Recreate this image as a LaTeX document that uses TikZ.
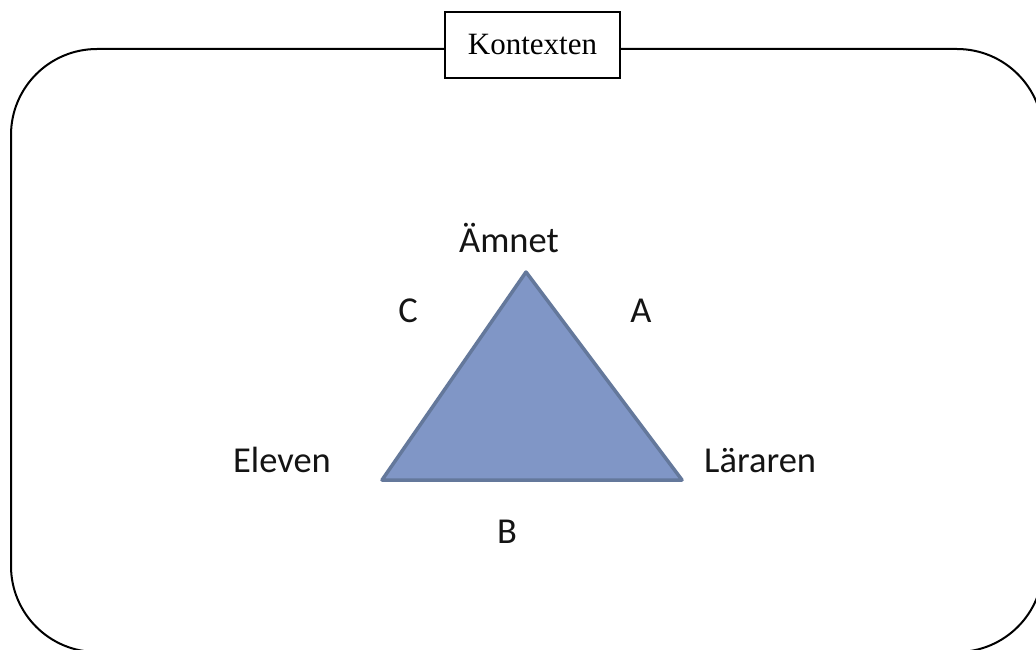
\documentclass[tikz,border=0pt]{standalone}
\usepackage{fontspec}
\setmainfont{Liberation Serif}
\newfontfamily\calib{Carlito}
\definecolor{trifill}{RGB}{128,150,198}
\definecolor{triline}{RGB}{100,120,155}
\definecolor{labtext}{RGB}{20,20,20}
\begin{document}
\begin{tikzpicture}[x=1pt,y=-1pt,
  frame/.style={draw=black,line width=2pt,rounded corners=86pt},
  titlebox/.style={draw=black,line width=2pt,fill=white,minimum width=175pt,minimum height=66pt,inner sep=0pt,font=\fontsize{31}{36}\selectfont},
  corner/.style={fill=trifill,draw=triline,line width=3.5pt,line join=round},
  lab/.style={anchor=base,inner sep=0pt,text=labtext,font=\calib\fontsize{36.5}{42}\selectfont}]
\useasboundingbox (0,0) rectangle (1036,650);
\begin{scope}
\clip (0,0) rectangle (1036,650);
\draw[frame] (11,49) rectangle (1043,652);
\end{scope}
\node[titlebox] (title) at (532.5,45) {Kontexten};
\coordinate (top) at (526,272);
\coordinate (bl) at (382,480);
\coordinate (br) at (682,480);
\draw[corner] (top) -- (br) -- (bl) -- cycle;
\node[lab] (amnet) at (509,252) {Ämnet};
\node[lab] (c) at (408,322) {C};
\node[lab] (a) at (641,322) {A};
\node[lab] (eleven) at (282,472) {Eleven};
\node[lab,anchor=base west] (lararen) at (704,472) {Läraren};
\node[lab] (b) at (507,543) {B};
\end{tikzpicture}
\end{document}
